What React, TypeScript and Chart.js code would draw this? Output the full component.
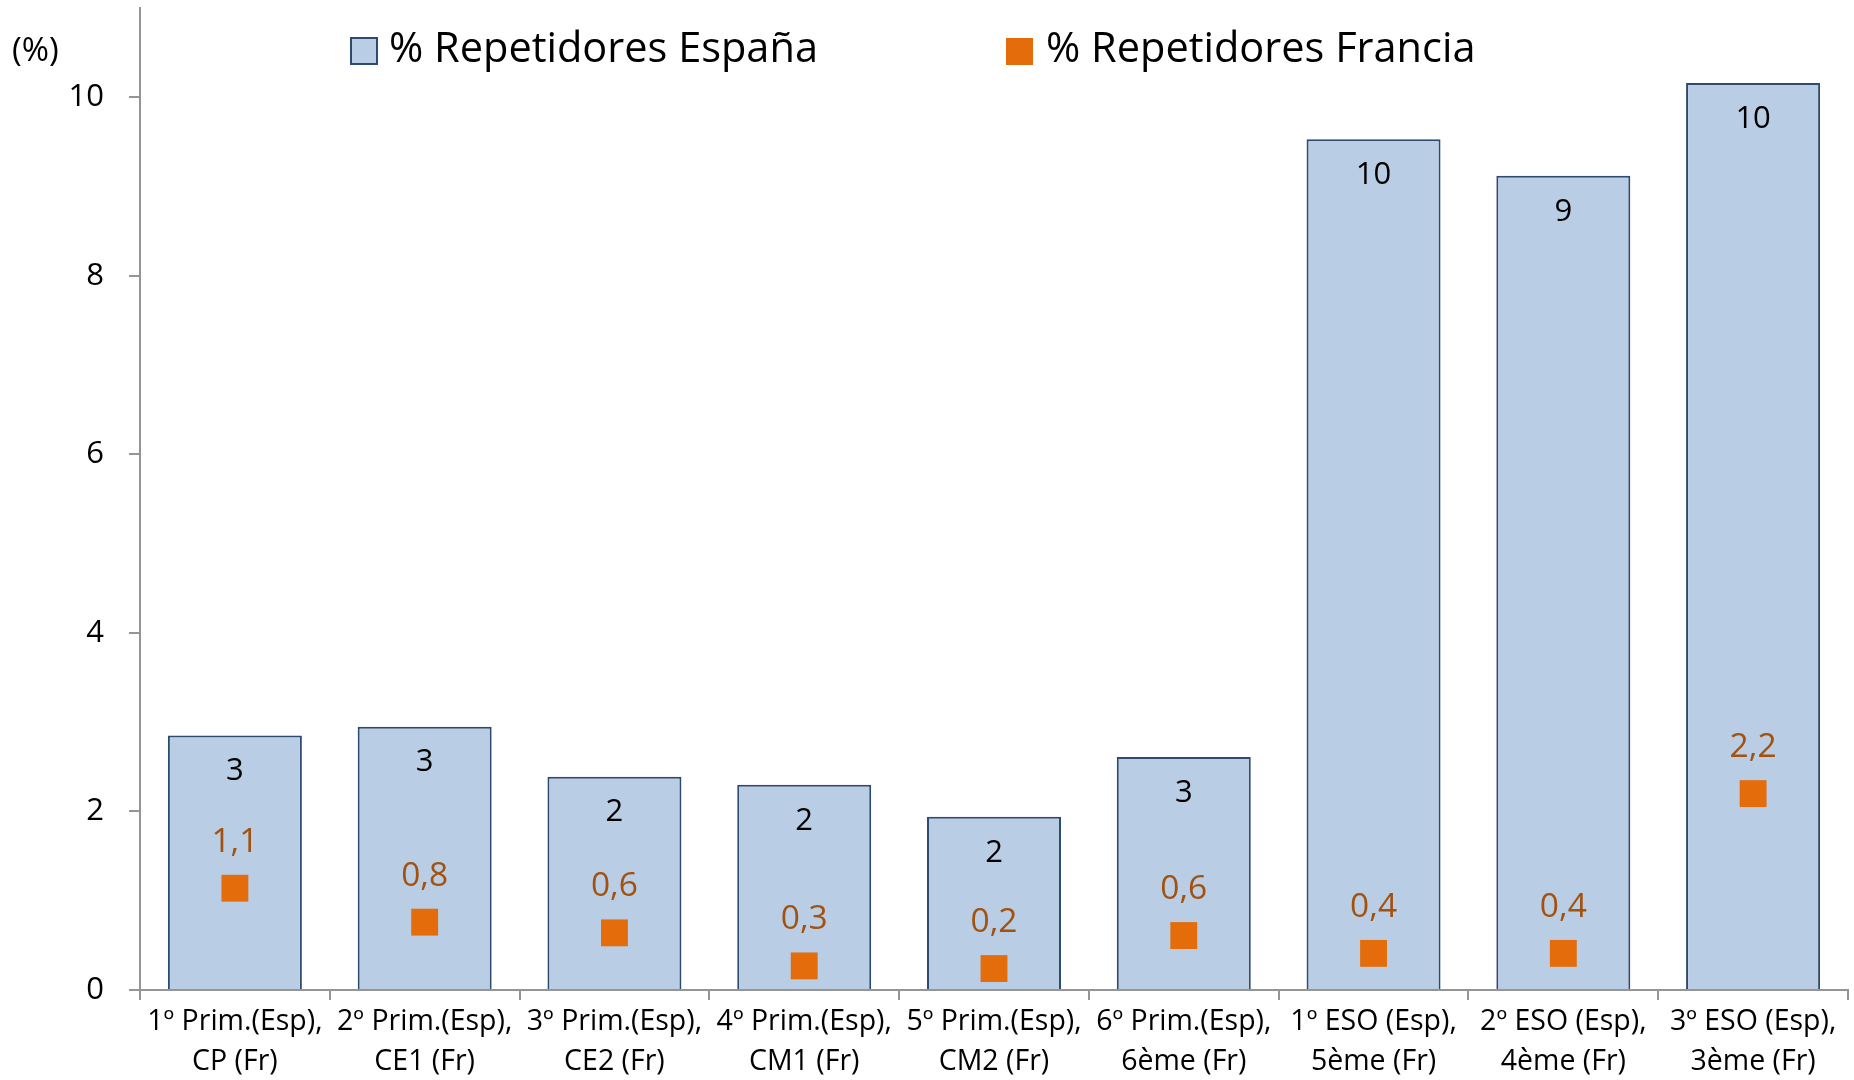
import { useEffect, useRef } from 'react';
import { Chart, registerables } from 'chart.js';

Chart.register(...registerables);

const categories: string[][] = [
  ['1º Prim.(Esp),', 'CP (Fr)'],
  ['2º Prim.(Esp),', 'CE1 (Fr)'],
  ['3º Prim.(Esp),', 'CE2 (Fr)'],
  ['4º Prim.(Esp),', 'CM1 (Fr)'],
  ['5º Prim.(Esp),', 'CM2 (Fr)'],
  ['6º Prim.(Esp),', '6ème (Fr)'],
  ['1º ESO (Esp),', '5ème (Fr)'],
  ['2º ESO (Esp),', '4ème (Fr)'],
  ['3º ESO (Esp),', '3ème (Fr)'],
];
const spainValues = [2.85, 2.95, 2.39, 2.3, 1.94, 2.61, 9.53, 9.12, 10.16];
const franceValues = [1.14, 0.76, 0.64, 0.27, 0.24, 0.61, 0.41, 0.41, 2.2];
const yTickValues = [0, 2, 4, 6, 8, 10];
const seriesNames = ['% Repetidores España', '% Repetidores Francia'];
const yUnitLabel = '(%)';

const FONT = '"Open Sans", "Noto Sans", sans-serif';
const BAR_FILL = '#b9cde5';
const BAR_BORDER = '#2e4a6e';
const ORANGE = '#e46c0a';
const ORANGE_TEXT = '#a2510e';
const AXIS = '#959595';

const overlayPlugin = {
  id: 'overlay',
  afterDatasetsDraw(chart: any) {
    const ctx = chart.ctx;
    ctx.save();
    ctx.textAlign = 'center';
    ctx.textBaseline = 'middle';
    ctx.font = `31px ${FONT}`;
    const bars = chart.getDatasetMeta(1).data;
    bars.forEach((el: any, i: number) => {
      ctx.fillStyle = '#000000';
      ctx.fillText(String(Math.round(spainValues[i])), el.x, el.y + 36);
    });
    ctx.font = `33.5px ${FONT}`;
    const pts = chart.getDatasetMeta(0).data;
    pts.forEach((el: any, i: number) => {
      ctx.fillStyle = ORANGE_TEXT;
      ctx.fillText(franceValues[i].toFixed(1).replace('.', ','), el.x, el.y - 46);
    });
    ctx.restore();
  },
  afterDraw(chart: any) {
    const ctx = chart.ctx;
    ctx.save();
    ctx.textBaseline = 'middle';
    ctx.textAlign = 'left';
    ctx.fillStyle = '#000000';
    ctx.font = `33px ${FONT}`;
    ctx.fillText(yUnitLabel, 12, 52);

    // legend
    ctx.fillStyle = BAR_FILL;
    ctx.fillRect(351, 38, 26, 26);
    ctx.strokeStyle = BAR_BORDER;
    ctx.lineWidth = 2;
    ctx.strokeRect(351, 38, 26, 26);
    ctx.fillStyle = ORANGE;
    ctx.fillRect(1006, 38, 27, 27);

    ctx.fillStyle = '#000000';
    ctx.font = `41.5px ${FONT}`;
    ctx.fillText(seriesNames[0], 389, 50);
    ctx.fillText(seriesNames[1], 1046, 50);
    ctx.restore();
  },
};

export default function App() {
  const ref = useRef<HTMLCanvasElement | null>(null);
  useEffect(() => {
    if (!ref.current) return;
    const chart = new Chart(ref.current, {
      type: 'bar',
      data: {
        labels: categories,
        datasets: [
          {
            type: 'line',
            label: seriesNames[1],
            data: franceValues,
            showLine: false,
            pointStyle: 'rect',
            pointRadius: 19,
            pointHoverRadius: 19,
            pointBackgroundColor: ORANGE,
            pointBorderWidth: 0,
            borderColor: ORANGE,
            backgroundColor: ORANGE,
            order: 0,
          } as any,
          {
            type: 'bar',
            label: seriesNames[0],
            data: spainValues,
            backgroundColor: BAR_FILL,
            borderColor: BAR_BORDER,
            borderWidth: 2,
            barPercentage: 0.706,
            categoryPercentage: 1,
            order: 1,
          },
        ],
      },
      options: {
        responsive: false,
        animation: false,
        layout: { autoPadding: false, padding: { top: 8, right: 6, left: 0, bottom: 0 } },
        plugins: {
          legend: { display: false },
          tooltip: { enabled: false },
        },
        scales: {
          x: {
            offset: true,
            grid: {
              offset: true,
              drawOnChartArea: false,
              drawTicks: true,
              tickLength: 10,
              color: AXIS,
              lineWidth: 2,
            },
            border: { display: true, color: AXIS, width: 2 },
            ticks: {
              color: '#000000',
              font: { family: FONT, size: 28.5, lineHeight: 1.4 },
              padding: 2,
              maxRotation: 0,
              autoSkip: false,
            },
            afterFit(scale: any) {
              scale.height = 90;
              scale.paddingLeft = 0;
              scale.paddingRight = 0;
            },
          },
          y: {
            min: 0,
            max: 11,
            grid: {
              drawOnChartArea: false,
              drawTicks: true,
              tickLength: 11,
              color: AXIS,
              lineWidth: 2,
            },
            border: { display: true, color: AXIS, width: 2 },
            ticks: {
              color: '#000000',
              font: { family: FONT, size: 31 },
              padding: 25,
            },
            afterBuildTicks(scale: any) {
              scale.ticks = yTickValues.map((v) => ({ value: v }));
            },
            afterFit(scale: any) {
              scale.width = 140;
              scale.paddingTop = 0;
              scale.paddingBottom = 0;
            },
          },
        },
      },
      plugins: [overlayPlugin],
    });
    return () => chart.destroy();
  }, []);

  return (
    <div style={{ position: 'absolute', left: 0, top: 0, width: 1854, height: 1080, background: '#ffffff' }}>
      <canvas ref={ref} width={1854} height={1080} style={{ display: 'block' }} />
    </div>
  );
}
